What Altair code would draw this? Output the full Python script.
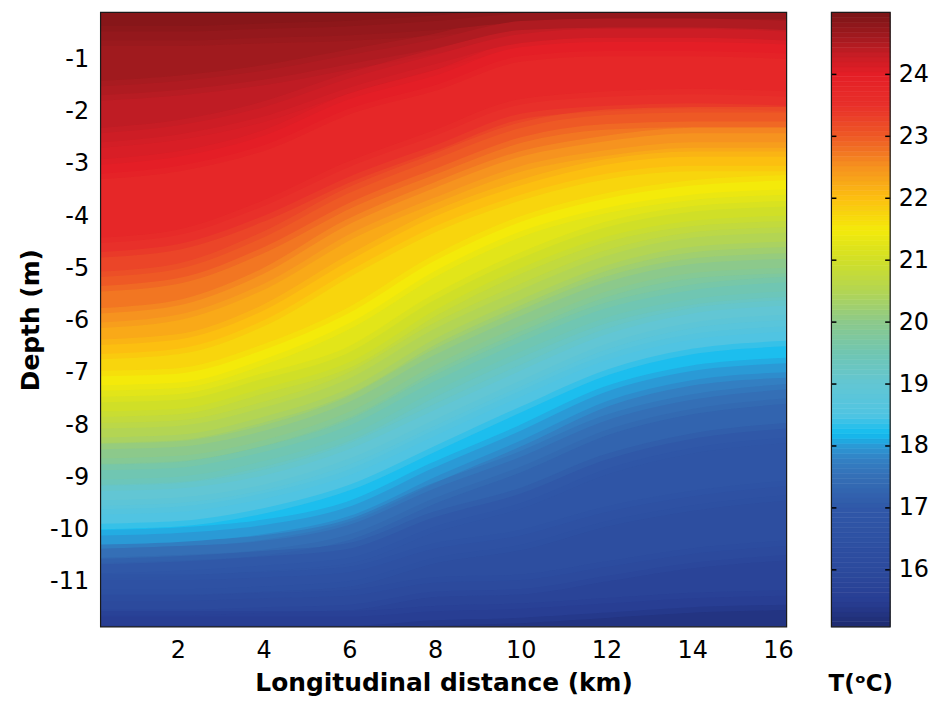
import altair as alt
import numpy as np
import pandas as pd

# ---------------- data ----------------
# longitudinal positions (km) at which isotherm depths were read
X_KM = [0.2, 2, 4, 6, 8, 10, 12, 14, 16.2]

# isotherm depths (m) at X_KM for each temperature level (deg C)
ISO_24_75 = [-0.55, -0.55, -0.5, -0.45, -0.35, -0.2, -0.15, -0.15, -0.15]
ISO_24_50 = [-1.6, -1.5, -1.3, -1.0, -0.7, -0.35, -0.3, -0.3, -0.35]
ISO_24_25 = [-2.5, -2.35, -2.0, -1.45, -1.0, -0.6, -0.5, -0.5, -0.55]
ISO_24_00 = [-3.1, -2.95, -2.55, -1.85, -1.4, -0.85, -0.75, -0.75, -0.8]
ISO_23_50 = [-4.6, -4.45, -3.9, -3.15, -2.55, -1.95, -1.8, -1.75, -1.8]
ISO_23_00 = [-5.25, -5.1, -4.5, -3.65, -3.0, -2.4, -2.15, -2.1, -2.1]
ISO_22_50 = [-5.95, -5.8, -5.2, -4.25, -3.55, -2.95, -2.65, -2.5, -2.5]
ISO_22_00 = [-6.55, -6.45, -5.9, -4.95, -4.1, -3.5, -3.1, -2.95, -2.95]
ISO_21_50 = [-7.15, -7.1, -6.65, -5.95, -4.95, -4.2, -3.75, -3.5, -3.4]
ISO_21_00 = [-7.65, -7.6, -7.2, -6.7, -5.7, -4.9, -4.3, -4.0, -3.9]
ISO_20_50 = [-8.15, -8.1, -7.75, -7.2, -6.25, -5.5, -4.85, -4.5, -4.4]
ISO_20_00 = [-8.55, -8.5, -8.2, -7.65, -6.75, -6.0, -5.35, -5.0, -4.9]
ISO_19_50 = [-8.95, -8.9, -8.6, -8.1, -7.25, -6.5, -5.85, -5.5, -5.35]
ISO_19_00 = [-9.35, -9.3, -9.05, -8.55, -7.8, -7.05, -6.35, -5.95, -5.8]
ISO_18_50 = [-9.8, -9.75, -9.5, -9.05, -8.3, -7.55, -6.85, -6.45, -6.3]
ISO_18_00 = [-10.2, -10.15, -10.0, -9.65, -8.9, -8.2, -7.45, -7.05, -6.9]
ISO_17_50 = [-10.45, -10.4, -10.3, -10.0, -9.3, -8.7, -8.0, -7.6, -7.4]
ISO_17_00 = [-10.75, -10.7, -10.6, -10.45, -9.85, -9.4, -8.75, -8.35, -8.15]
ISO_16_50 = [-11.05, -11.05, -11.0, -10.9, -10.45, -10.2, -9.75, -9.45, -9.25]
ISO_16_00 = [-11.45, -11.45, -11.4, -11.35, -11.1, -11.05, -10.8, -10.55, -10.4]
ISO_15_50 = [-11.75, -11.75, -11.75, -11.75, -11.65, -11.6, -11.5, -11.4, -11.35]

LEVELS = [24.75, 24.5, 24.25, 24.0, 23.5, 23.0, 22.5, 22.0, 21.5, 21.0, 20.5,
          20.0, 19.5, 19.0, 18.5, 18.0, 17.5, 17.0, 16.5, 16.0, 15.5]
ISOS = [ISO_24_75, ISO_24_50, ISO_24_25, ISO_24_00, ISO_23_50, ISO_23_00,
        ISO_22_50, ISO_22_00, ISO_21_50, ISO_21_00, ISO_20_50, ISO_20_00,
        ISO_19_50, ISO_19_00, ISO_18_50, ISO_18_00, ISO_17_50, ISO_17_00,
        ISO_16_50, ISO_16_00, ISO_15_50]

SURFACE_T = 25.0
FLOOR_T = 15.1
TOP_DEPTH = -0.1
BOTTOM_DEPTH = -11.86
X_MIN, X_MAX = 0.2, 16.2

# colour map (colour bar)
CMAP_T = [15.08, 15.5, 16.0, 16.5, 17.0, 17.5, 17.8, 18.0, 18.2, 18.5, 19.0,
          19.5, 20.0, 20.5, 21.0, 21.5, 22.0, 22.5, 23.0, 23.5, 24.0, 24.3,
          24.6, 25.0]
CMAP_C = ["#1e2a6f", "#283e93", "#2c4a9d", "#2e51a3", "#3058a8", "#346fb6",
          "#3382c5", "#2a9ad6", "#12bdf0", "#50c4e2", "#62c6d4", "#70c6b2",
          "#8cc98b", "#b3d553", "#d0df27", "#f4ea0a", "#fcbf10", "#f6931f",
          "#ee5925", "#e8302a", "#e41e26", "#c81d25", "#a31a1f", "#7a1416"]

X_TICKS = [2, 4, 6, 8, 10, 12, 14, 16]
Y_TICKS = [-1, -2, -3, -4, -5, -6, -7, -8, -9, -10, -11]
CB_TICKS = [16, 17, 18, 19, 20, 21, 22, 23, 24]
CB_LO, CB_HI = 15.08, 25.0

# ---------------- tables ----------------
bounds = [(SURFACE_T, [TOP_DEPTH] * len(X_KM))] + list(zip(LEVELS, ISOS)) + \
         [(FLOOR_T, [BOTTOM_DEPTH] * len(X_KM))]
rows = []
for i in range(len(bounds) - 1):
    t_up, d_up = bounds[i]
    t_lo, d_lo = bounds[i + 1]
    for j, x in enumerate(X_KM):
        rows.append({"band": i, "x": x, "top": d_up[j], "bot": d_lo[j],
                     "t": (t_up + t_lo) / 2})
bands = pd.DataFrame(rows)

iso_rows = []
for lev, iso in zip(LEVELS, ISOS):
    for x, d in zip(X_KM, iso):
        iso_rows.append({"level": lev, "x": x, "top": d, "t": lev})
isolines = pd.DataFrame(iso_rows)

edges = np.linspace(CB_LO, CB_HI, 125)
cb_df = pd.DataFrame({"t0": edges[:-1], "t1": edges[1:],
                      "tm": (edges[:-1] + edges[1:]) / 2})
ticks_df = pd.DataFrame({"t0": CB_TICKS})
frame_df = pd.DataFrame({"x": [X_MIN], "x2": [X_MAX], "top": [BOTTOM_DEPTH], "y2": [TOP_DEPTH]})
cb_frame_df = pd.DataFrame({"t0": [CB_LO], "t1": [CB_HI]})

# ---------------- scales / axes ----------------
xs = alt.Scale(domain=[X_MIN, X_MAX], nice=False, zero=False)
ys = alt.Scale(domain=[BOTTOM_DEPTH, TOP_DEPTH], nice=False, zero=False)
cs = alt.Scale(domain=CMAP_T, range=CMAP_C, interpolate="rgb")
cbs = alt.Scale(domain=[CB_LO, CB_HI], nice=False, zero=False)

x_axis = alt.Axis(values=X_TICKS, title="Longitudinal distance (km)", grid=False,
                  domain=False, ticks=False, labelPadding=12, titlePadding=8,
                  labelFlush=False, format="d")
y_axis = alt.Axis(values=Y_TICKS, title="Depth (m)", grid=False, domain=False,
                  ticks=False, labelPadding=12, titlePadding=6,
                  labelExpr="'-' + abs(datum.value)")
cb_axis = alt.Axis(orient="right", values=CB_TICKS, title="", grid=False,
                   domain=False, ticks=False, labelPadding=8)

# ---------------- main field ----------------
field = alt.Chart(bands).mark_area(interpolate="monotone", strokeWidth=1, clip=True).encode(
    x=alt.X("x:Q", scale=xs, axis=x_axis),
    y=alt.Y("top:Q", scale=ys, axis=y_axis),
    y2="bot:Q",
    fill=alt.Fill("t:Q", scale=cs, legend=None),
    stroke=alt.Stroke("t:Q", scale=cs, legend=None),
    detail="band:N",
)

iso_wide = alt.Chart(isolines).mark_line(
    interpolate="monotone", strokeWidth=20, strokeOpacity=0.5, clip=True).encode(
    x=alt.X("x:Q", scale=xs, axis=x_axis),
    y=alt.Y("top:Q", scale=ys, axis=y_axis),
    stroke=alt.Stroke("t:Q", scale=cs, legend=None),
    detail="level:N",
)
iso_thin = alt.Chart(isolines).mark_line(
    interpolate="monotone", strokeWidth=9, clip=True).encode(
    x=alt.X("x:Q", scale=xs, axis=x_axis),
    y=alt.Y("top:Q", scale=ys, axis=y_axis),
    stroke=alt.Stroke("t:Q", scale=cs, legend=None),
    detail="level:N",
)

frame = alt.Chart(frame_df).mark_rect(fillOpacity=0, stroke="#1a1a1a", strokeWidth=1.2).encode(
    x=alt.X("x:Q", scale=xs, axis=x_axis),
    x2="x2:Q",
    y=alt.Y("top:Q", scale=ys, axis=y_axis),
    y2="y2:Q",
)

main = alt.layer(field, iso_wide, iso_thin, frame).properties(width=689, height=617)

# ---------------- colour bar ----------------
cbar = alt.Chart(cb_df).mark_rect(strokeWidth=0.6).encode(
    x=alt.value(0), x2=alt.value(59),
    y=alt.Y("t0:Q", scale=cbs, axis=cb_axis),
    y2="t1:Q",
    fill=alt.Fill("tm:Q", scale=cs, legend=None),
    stroke=alt.Stroke("tm:Q", scale=cs, legend=None),
)
tick_l = alt.Chart(ticks_df).mark_rule(color="black", strokeWidth=1.5).encode(
    y=alt.Y("t0:Q", scale=cbs, axis=cb_axis), x=alt.value(0), x2=alt.value(5))
tick_r = alt.Chart(ticks_df).mark_rule(color="black", strokeWidth=1.5).encode(
    y=alt.Y("t0:Q", scale=cbs, axis=cb_axis), x=alt.value(54), x2=alt.value(59))
cb_frame = alt.Chart(cb_frame_df).mark_rect(fillOpacity=0, stroke="#1a1a1a", strokeWidth=1.2).encode(
    x=alt.value(0), x2=alt.value(59),
    y=alt.Y("t0:Q", scale=cbs, axis=cb_axis), y2="t1:Q")

colorbar = alt.layer(cbar, tick_l, tick_r, cb_frame).properties(
    width=59, height=617,
    title=alt.TitleParams(text="T(ᵒC)", orient="bottom", frame="group",
                          anchor="middle", offset=46, fontSize=23,
                          font="DejaVu Sans", fontWeight="bold", color="black"))

chart = alt.hconcat(main, colorbar, spacing=35).properties(
    padding={"left": 18, "top": 10, "right": 2, "bottom": 3},
    background="white",
).configure_view(strokeWidth=0).configure_axis(
    labelFont="DejaVu Sans", labelFontSize=24, labelColor="black",
    titleFont="DejaVu Sans", titleFontSize=25, titleFontWeight="bold",
    titleColor="black",
)

chart.save("out.html", embed_options={"renderer": "svg", "actions": False})
